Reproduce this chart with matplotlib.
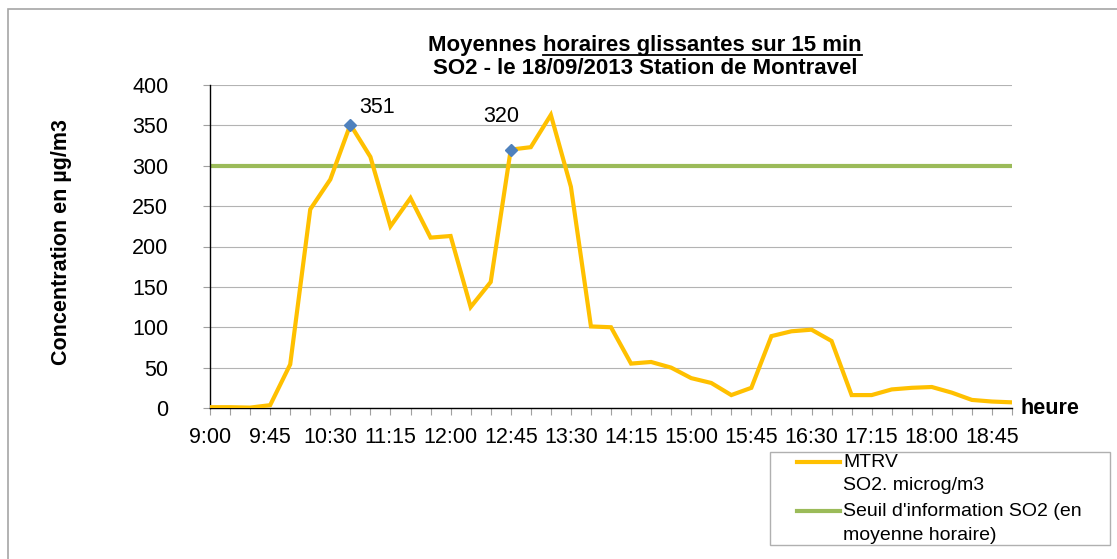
import matplotlib
matplotlib.use('Agg')
import matplotlib.pyplot as plt
from matplotlib.lines import Line2D
from matplotlib.patches import Rectangle

plt.rcParams['font.family'] = ['Liberation Sans', 'DejaVu Sans']

# 15 min steps from 9:00 to 19:00
times = ['9:00', '9:15', '9:30', '9:45', '10:00', '10:15', '10:30', '10:45',
         '11:00', '11:15', '11:30', '11:45', '12:00', '12:15', '12:30', '12:45',
         '13:00', '13:15', '13:30', '13:45', '14:00', '14:15', '14:30', '14:45',
         '15:00', '15:15', '15:30', '15:45', '16:00', '16:15', '16:30', '16:45',
         '17:00', '17:15', '17:30', '17:45', '18:00', '18:15', '18:30', '18:45',
         '19:00']
mtrv = [1, 1, 0.5, 3.5, 54, 246, 283, 351, 311, 225, 260, 211, 213, 125, 156,
        320, 323, 363, 274, 101, 100, 55, 57, 50, 37, 31, 16, 25, 89, 95, 97,
        83, 16, 16, 23, 25, 26, 19, 10, 8, 7]
seuil = 300
highlight = [7, 15]  # points with value labels
label_offsets = [(19, 12), (-6.5, 23.5)]  # points

legend_labels = ['MTRV\nSO2. microg/m3', "Seuil d'information SO2 (en\nmoyenne horaire)"]
yellow, green, blue = '#FFC000', '#9BBB59', '#4F81BD'

W, H = 1117, 559
fig = plt.figure(figsize=(W / 100, H / 100), dpi=100)

# outer chart border (only left/top visible in the image)
fig.patches.append(Rectangle((8 / W, 0 - 0.05), 1.2, 1 - 9 / H + 0.05,
                             transform=fig.transFigure, fill=False,
                             edgecolor='#a6a6a6', lw=1.2))

ax = fig.add_axes([210 / W, (H - 408) / H, (1012 - 210) / W, (408 - 85) / H])
x = list(range(len(times)))

ax.plot(x, mtrv, color=yellow, lw=3, solid_joinstyle='miter', zorder=3)
ax.plot([x[0], x[-1]], [seuil, seuil], color=green, lw=3, zorder=2)
ax.plot([x[i] for i in highlight], [mtrv[i] for i in highlight], 'D',
        color=blue, ms=6, zorder=4)
for i, off in zip(highlight, label_offsets):
    ax.annotate(str(mtrv[i]), (x[i], mtrv[i]), xytext=off,
                textcoords='offset points', fontsize=15.5, ha='center',
                va='center')

ax.set_xlim(0, len(times) - 1)
ax.set_ylim(0, 400)
ax.set_yticks(range(0, 401, 50))
ax.set_xticks(x)
ax.set_xticklabels([t if i % 3 == 0 else '' for i, t in enumerate(times)])
ax.grid(axis='y', color='#b3b3b3', lw=0.8)
ax.set_axisbelow(True)
ax.tick_params(axis='both', labelsize=15.5, color='#a0a0a0', length=5, width=0.8)
ax.tick_params(axis='y', pad=25)
ax.tick_params(axis='x', pad=9)
for s in ['top', 'right']:
    ax.spines[s].set_visible(False)
for s in ['left', 'bottom']:
    ax.spines[s].set_color('black')
    ax.spines[s].set_linewidth(1)

fig.text(62 / W, 1 - 242 / H, 'Concentration en µg/m3', rotation=90,
         fontsize=15.5, fontweight='bold', ha='center', va='center')
fig.text(1020 / W, 1 - 408 / H, 'heure', fontsize=15.5, fontweight='bold',
         ha='left', va='center')

# title, with part of the first line underlined
cx = 645
renderer = fig.canvas.get_renderer()
t1 = fig.text(0, 1 - 45 / H, 'Moyennes ', fontsize=16, fontweight='bold',
              va='center', ha='left')
t2 = fig.text(0, 1 - 45 / H, 'horaires glissantes sur 15 min', fontsize=16,
              fontweight='bold', va='center', ha='left')
w1 = t1.get_window_extent(renderer).width
w2 = t2.get_window_extent(renderer).width
left = cx - (w1 + w2) / 2
t1.set_x(left / W)
t2.set_x((left + w1) / W)
bb = t2.get_window_extent(renderer)
uy = (bb.y0 + 1) / H
fig.add_artist(Line2D([bb.x0 / W, bb.x1 / W], [uy, uy], color='black',
                      lw=1.3, transform=fig.transFigure))
fig.text(cx / W, 1 - 69 / H, 'SO2 - le 18/09/2013 Station de Montravel',
         fontsize=16, fontweight='bold', ha='center', va='center')

# legend, drawn by hand so the handle sits on the first text line
fig.patches.append(Rectangle((770 / W, 1 - 545 / H), (1110 - 770) / W,
                             (545 - 452) / H, transform=fig.transFigure,
                             fill=False, edgecolor='#b0b0b0', lw=1))
for k, (lab, col) in enumerate(zip(legend_labels, [yellow, green])):
    ly = 462 + 49 * k
    fig.add_artist(Line2D([797 / W, 840 / W], [1 - ly / H, 1 - ly / H],
                          color=col, lw=3, transform=fig.transFigure))
    fig.text(843 / W, 1 - (ly - 8) / H, lab, fontsize=14, ha='left',
             va='top', linespacing=1.5)

fig.savefig('out.png', dpi=100)
